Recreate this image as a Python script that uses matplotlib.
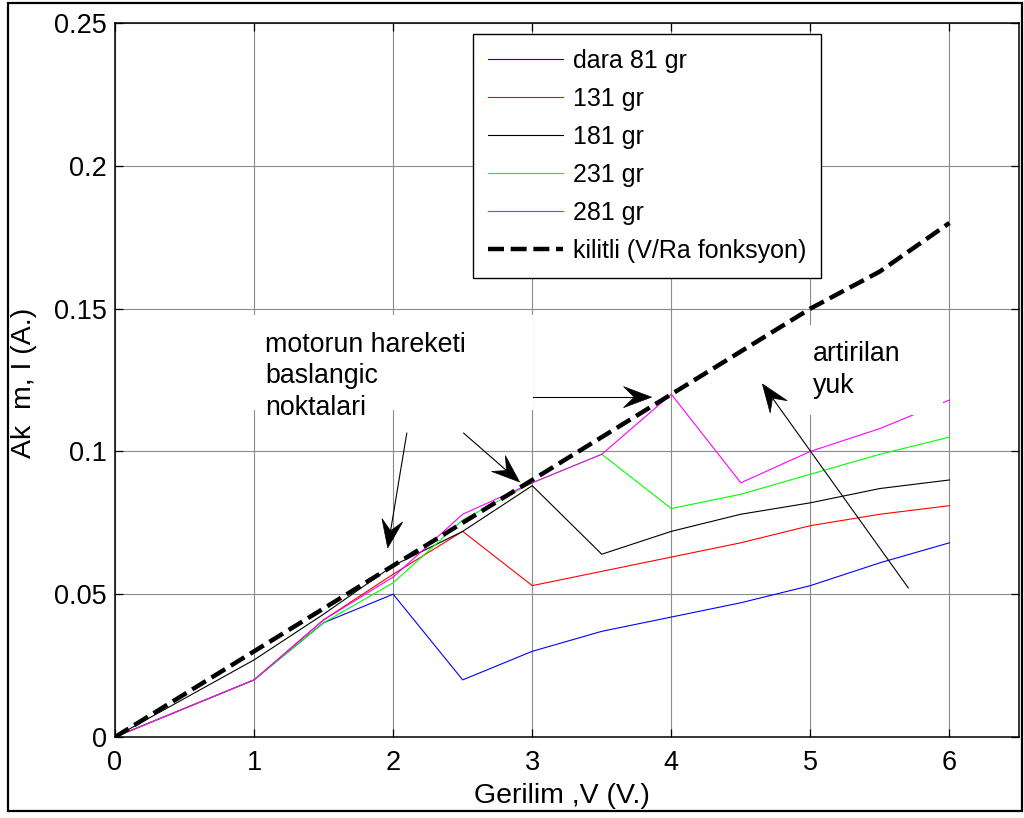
import numpy as np
import matplotlib
matplotlib.use("Agg")
import matplotlib.pyplot as plt
from matplotlib.patches import Rectangle, Polygon
from matplotlib.transforms import IdentityTransform

plt.rcParams['font.family'] = ['Liberation Sans', 'DejaVu Sans']

# ---- data ----
voltage = [0, 1, 1.5, 2, 2.5, 3, 3.5, 4, 4.5, 5, 5.5, 6]
i_81 = [0, 0.020, 0.040, 0.050, 0.020, 0.030, 0.037, 0.042, 0.047, 0.053, 0.061, 0.068]
i_131 = [0, 0.020, 0.041, 0.057, 0.072, 0.053, 0.058, 0.063, 0.068, 0.074, 0.078, 0.081]
i_181 = [0, 0.027, 0.043, 0.060, 0.072, 0.088, 0.064, 0.072, 0.078, 0.082, 0.087, 0.090]
i_231 = [0, 0.020, 0.040, 0.054, 0.076, 0.089, 0.099, 0.080, 0.085, 0.092, 0.099, 0.105]
i_281 = [0, 0.020, 0.041, 0.056, 0.078, 0.089, 0.099, 0.120, 0.089, 0.100, 0.108, 0.118]
locked_v = [0, 1, 2, 3, 4, 5, 5.5, 6]
locked_i = [0, 0.030, 0.060, 0.090, 0.120, 0.150, 0.163, 0.180]

labels = ['dara 81 gr', '131 gr', '181 gr', '231 gr', '281 gr', 'kilitli (V/Ra fonksyon)']
colors = ['#0000ff', '#ff0000', '#000000', '#00ff00', '#ff00ff']
xticks = [0, 1, 2, 3, 4, 5, 6]
yticks = [0, 0.05, 0.1, 0.15, 0.2, 0.25]
ytick_labels = ['0', '0.05', '0.1', '0.15', '0.2', '0.25']

W, H = 1024, 818
fig = plt.figure(figsize=(W / 100, H / 100), dpi=100)
ax = fig.add_axes([115 / W, 1 - 737 / H, (1019 - 115) / W, (737 - 23) / H])

for ys, c, lab in zip([i_81, i_131, i_181, i_231, i_281], colors, labels[:5]):
    ax.plot(voltage, ys, color=c, lw=0.8, label=lab, zorder=2)
ax.plot(locked_v, locked_i, color='black', lw=3.2, ls=(0, (3.6, 1.5)), label=labels[5], zorder=2.2)

ax.set_xlim(0, 6.5)
ax.set_ylim(0, 0.25)
ax.set_xticks(xticks)
ax.set_yticks(yticks)
ax.set_yticklabels(ytick_labels)
ax.grid(True, color='#8a8a8a', lw=0.8)
ax.tick_params(direction='in', length=6, width=0.9, top=True, right=True, labelsize=19.5)
ax.tick_params(axis='x', pad=9)
ax.tick_params(axis='y', pad=6)
for s in ax.spines.values():
    s.set_linewidth(1.1)

leg = ax.legend(loc='upper left', bbox_to_anchor=((473 - 115) / 904, (737 - 34) / 714),
                borderaxespad=0, fontsize=18, fancybox=False, framealpha=1,
                edgecolor='black', handlelength=3.0, handletextpad=0.4,
                labelspacing=0.56, borderpad=0.6)
leg.get_frame().set_linewidth(1.0)
leg.set_zorder(5)

# white text boxes
ax.add_patch(Rectangle((0.898, 0.1145), 3.003 - 0.898, 0.1478 - 0.1145,
                       facecolor='white', edgecolor='none', zorder=1.8))
ax.add_patch(Rectangle((4.885, 0.1127), 5.955 - 4.885, 0.1443 - 0.1127,
                       facecolor='white', edgecolor='none', zorder=2.6))

ax.text(1.078, 0.1418, 'motorun hareketi\nbaslangic\nnoktalari', fontsize=19.3,
        ha='left', va='top', linespacing=1.27, zorder=4)
ax.text(5.02, 0.1388, 'artirilan\nyuk', fontsize=19.3, ha='left', va='top',
        linespacing=1.32, zorder=4)

# arrows (tail, tip) in data coordinates
arrows = [((2.098, 0.1064), (1.961, 0.0662)),
          ((2.507, 0.1064), (2.909, 0.0893)),
          ((3.003, 0.1190), (3.858, 0.1190)),
          ((5.704, 0.0522), (4.655, 0.1236))]
L, Wd = 28.0, 21.0
for tail, tip in arrows:
    t = ax.transData.transform(tail)
    p = ax.transData.transform(tip)
    d = p - t
    d = d / np.hypot(*d)
    n = np.array([-d[1], d[0]])
    notch = p - 0.62 * L * d
    pts = [p, p - L * d + Wd / 2 * n, notch, p - L * d - Wd / 2 * n]
    ax.add_line(plt.Line2D([t[0], notch[0]], [t[1], notch[1]], color='black', lw=0.8,
                           transform=IdentityTransform(), zorder=4))
    ax.add_patch(Polygon(pts, closed=True, facecolor='black', edgecolor='black', lw=0.5,
                         transform=IdentityTransform(), zorder=4))

fig.text(24 / W, 1 - 383 / H, 'Ak  m, I (A.)', rotation=90, ha='center', va='center', fontsize=20.5)
fig.text(562 / W, 1 - 796 / H, 'Gerilim ,V (V.)', ha='center', va='center', fontsize=20.5)

fig.patches.append(Rectangle((8 / W, 7 / H), (1022 - 8) / W, (811 - 3) / H,
                             transform=fig.transFigure, fill=False, edgecolor='black', lw=1.6))

fig.savefig('out.png', dpi=100)
